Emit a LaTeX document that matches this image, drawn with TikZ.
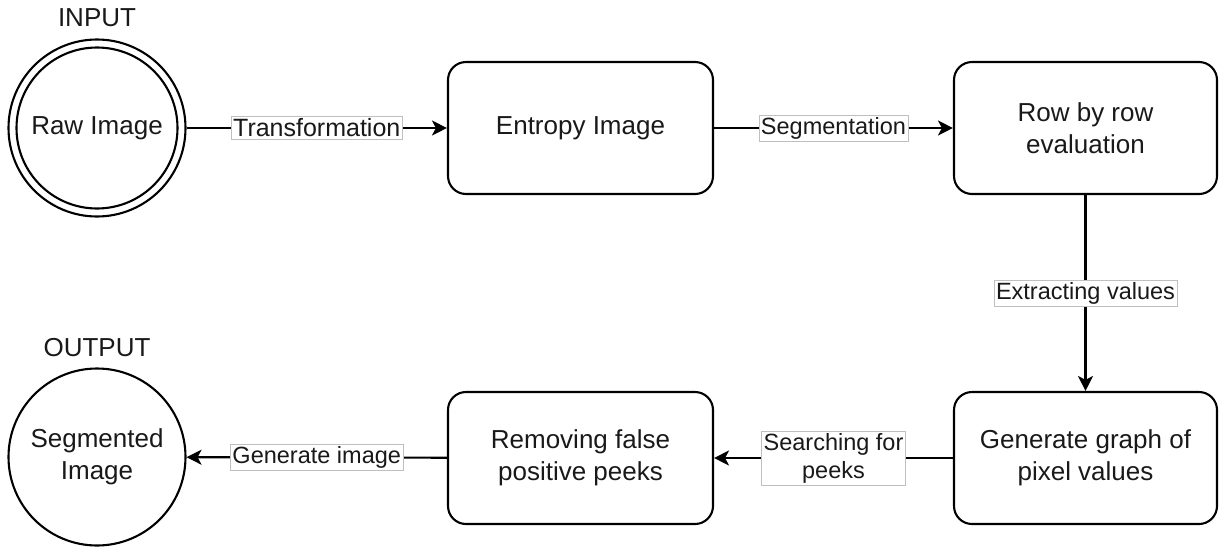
\documentclass[tikz,border=0pt]{standalone}
\usepackage{fontspec}
\setmainfont{Liberation Sans}
\usetikzlibrary{arrows.meta}
\begin{document}
\begin{tikzpicture}[x=1pt,y=-1pt,
  box/.style={draw, line width=2.1pt, rounded corners=18pt, minimum width=264pt, minimum height=132pt,
    align=center, font=\fontsize{26}{32}\selectfont, inner sep=0pt, text=black!90},
  circ/.style={draw, circle, line width=2.1pt, minimum size=177pt, align=center,
    font=\fontsize{26}{32}\selectfont, inner sep=0pt, text=black!90},
  conn/.style={line width=2.1pt, -{Stealth[length=15pt,width=15pt,inset=4pt]}},
  lbl/.style={draw=black!25, line width=0.8pt, fill=white, font=\fontsize{23.5}{28}\selectfont,
    inner sep=2pt, align=center, text=black!90},
  ttl/.style={font=\fontsize{26}{32}\selectfont, text=black!90}]
\useasboundingbox (0,0) rectangle (1219,547);

\node[circ] (raw) at (97,128) {Raw Image};
\draw[line width=2.1pt] (raw.center) circle[radius=80.5];
\node[ttl] (inp) at (97,18) {INPUT};

\node[box, minimum width=265pt] (entropy) at (580.5,128) {Entropy Image};
\node[box, minimum width=263pt] (row) at (1085.5,128) {Row by row\\evaluation};
\node[box, minimum width=263pt] (graph) at (1085.5,458) {Generate graph of\\pixel values};
\node[box, minimum width=265pt] (remove) at (580.5,458) {Removing false\\positive peeks};

\node[circ] (seg) at (97,457) {Segmented\\Image};
\node[ttl] (outp) at (97,348) {OUTPUT};

\draw[conn] (raw) -- node[lbl, font=\fontsize{25}{30}\selectfont] {Transformation} (entropy);
\draw[conn] (entropy) -- node[lbl] {Segmentation} (row);
\draw[conn] (row) -- node[lbl] {Extracting values} (graph);
\draw[conn] (graph) -- node[lbl] {Searching for\\peeks} (remove);
\draw[conn] (remove) -- node[lbl] {Generate image} (seg);
\end{tikzpicture}
\end{document}
